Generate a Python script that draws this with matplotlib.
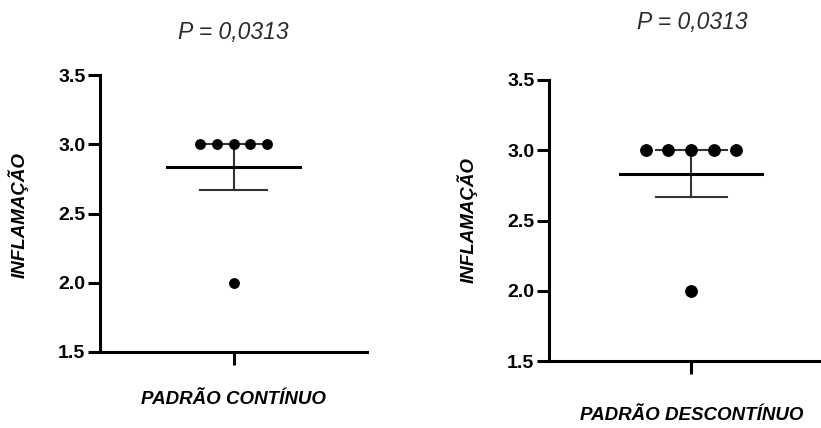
import matplotlib
matplotlib.use("Agg")
import matplotlib.pyplot as plt
import numpy as np

groups = ["PADRÃO CONTÍNUO", "PADRÃO DESCONTÍNUO"]
values_continuo = [3, 3, 3, 3, 3, 2]
values_descontinuo = [3, 3, 3, 3, 3, 2]
p_text = ["P = 0,0313", "P = 0,0313"]
ylabel = "INFLAMAÇÃO"
yticks = [1.5, 2.0, 2.5, 3.0, 3.5]

plt.rcParams['font.family'] = ['Liberation Sans', 'DejaVu Sans']

fig = plt.figure(figsize=(8.21, 4.28), dpi=100)

specs = [
    dict(rect=[100/821, 1-352/428, 267/821, 277/428], xlim=(-1, 1.0), spread=0.125, ms=6.8,
         xlabel_y=400, ylabel_x=18, ylabel_yc=215, title_yc=32, xc=233),
    dict(rect=[549/821, 1-361/428, 272/821, 281/428], xlim=(-1, 0.915), spread=0.16, ms=8.2,
         xlabel_y=415, ylabel_x=467, ylabel_yc=220, title_yc=23, xc=692),
]
datasets = [values_continuo, values_descontinuo]

for i, (sp, vals) in enumerate(zip(specs, datasets)):
    ax = fig.add_axes(sp["rect"])
    vals = np.array(vals, dtype=float)
    mean = vals.mean()
    sem = vals.std(ddof=1) / np.sqrt(len(vals))
    uniq, counts = np.unique(vals, return_counts=True)
    pts_x, pts_y = [], []
    for u, c in zip(uniq, counts):
        offs = (np.arange(c) - (c - 1) / 2) * sp["spread"]
        pts_x.extend(offs)
        pts_y.extend([u] * c)
    cap = 0.25
    ax.plot([0, 0], [mean - sem, mean + sem], color="#333333", lw=1.5, zorder=2)
    ax.plot([-cap, cap], [mean - sem, mean - sem], color="#333333", lw=1.5, zorder=2)
    ax.plot([-cap, cap], [mean + sem, mean + sem], color="#333333", lw=1.5, zorder=2)
    ax.plot([-0.5, 0.5], [mean, mean], color="black", lw=2.2, zorder=2)
    ax.plot(pts_x, pts_y, "o", color="black", ms=sp["ms"], zorder=3, clip_on=False)

    ax.set_xlim(*sp["xlim"])
    ax.set_ylim(1.5, 3.5)
    ax.set_yticks(yticks)
    ax.set_yticklabels([f"{t:.1f}" for t in yticks], fontweight="bold", fontsize=14)
    ax.set_xticks([0])
    ax.set_xticklabels([""])
    for s in ["top", "right"]:
        ax.spines[s].set_visible(False)
    for s in ["left", "bottom"]:
        ax.spines[s].set_linewidth(2.2)
    ax.tick_params(axis="both", length=9, width=2.2, pad=1.5, direction="out")

    fig.text(sp["xc"]/821, 1 - sp["title_yc"]/428, p_text[i], ha="center", va="center",
             fontsize=16.5, fontstyle="italic", color="#2a2a2a")
    fig.text(sp["xc"]/821, 1 - sp["xlabel_y"]/428, groups[i], ha="center", va="center",
             fontsize=13.5, fontweight="bold", fontstyle="italic")
    fig.text(sp["ylabel_x"]/821, 1 - sp["ylabel_yc"]/428, ylabel, ha="center", va="center",
             rotation=90, fontsize=13.5, fontweight="bold", fontstyle="italic")

fig.savefig("out.png", dpi=100)
